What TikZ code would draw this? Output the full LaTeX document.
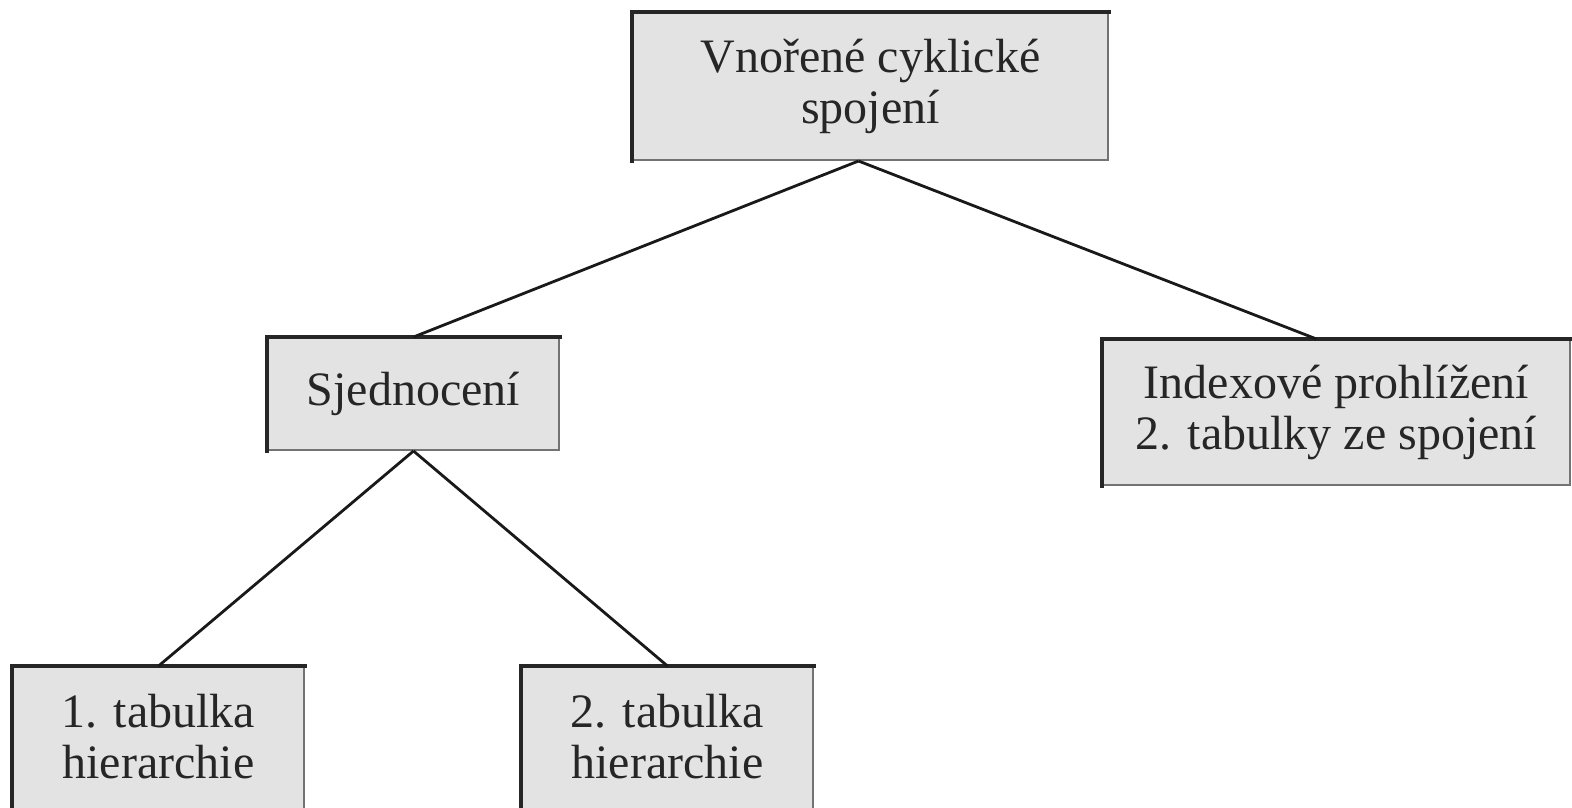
\documentclass[tikz,border=0pt]{standalone}
\usepackage{fontspec}
\setmainfont{Liberation Serif}
\usetikzlibrary{calc}
\begin{document}
\begin{tikzpicture}[x=1pt,y=-1pt,
  txt/.style={align=center, font=\fontsize{48}{51}\selectfont, text=black!85},
  box/.style={txt, rectangle, draw=black!55, line width=2pt, fill=black!11, inner sep=0pt},
  lbl/.style={txt, inner sep=0pt},
  link/.style={line width=2.8pt, black!90},
  edgeline/.style={line width=4pt, black!85, line cap=rect}]
\useasboundingbox (0,0) rectangle (1572,807);
\clip (0,0) rectangle (1572,807);
\fill[white] (0,0) rectangle (1572,807);

% boxes of the plan tree
\node[box, minimum width=475pt, minimum height=147pt] (top) at (870.5,86.5) {Vnořené cyklické\\spojení};
\node[box, minimum width=291pt, minimum height=112pt] (sj) at (413.5,394) {Sjednocení};
\node[box, minimum width=467pt, minimum height=145pt] (ix) at (1336.5,412.5) {Indexové prohlížení\\2. tabulky ze spojení};
\node[box, minimum width=291pt, minimum height=180pt, anchor=north] (t1) at (158.5,666) {};
\node[box, minimum width=291pt, minimum height=180pt, anchor=north] (t2) at (667.5,666) {};
\node[lbl, anchor=north] (t1text) at ($(t1.north)+(0,28)$) {1. tabulka\\hierarchie};
\node[lbl, anchor=north] (t2text) at ($(t2.north)+(0,28)$) {2. tabulka\\hierarchie};

% heavier left and top edges
\foreach \n in {top,sj,ix,t1,t2}
  \draw[edgeline] (\n.south west) -- (\n.north west) -- (\n.north east);

% connectors
\draw[link] ([xshift=-12pt]top.south) -- (sj.north);
\draw[link] ([xshift=-12pt]top.south) -- ([xshift=-20pt]ix.north);
\draw[link] (sj.south) -- (t1.north);
\draw[link] (sj.south) -- (t2.north);
\end{tikzpicture}
\end{document}
